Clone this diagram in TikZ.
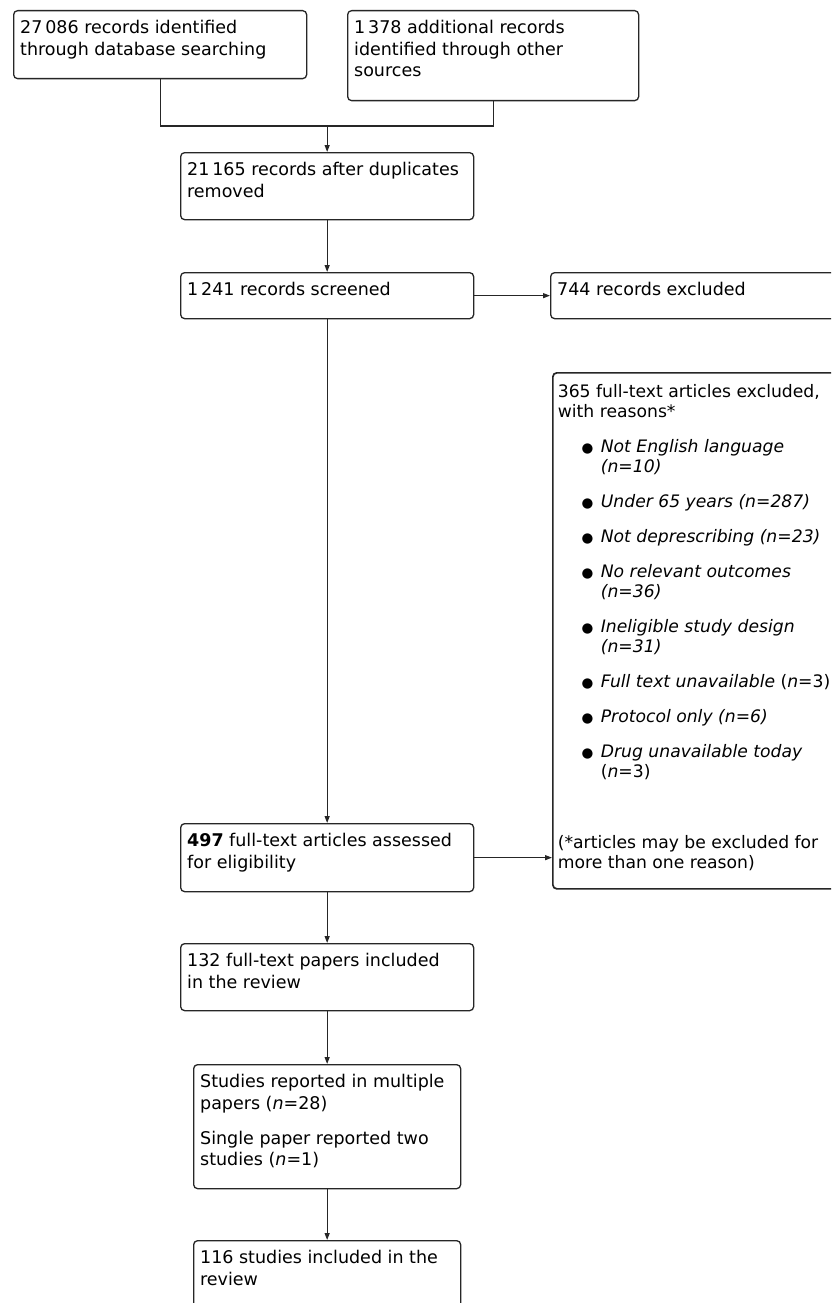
\documentclass[tikz,border=0pt]{standalone}
\usepackage{fontspec}
\setmainfont{DejaVu Sans}
\usetikzlibrary{arrows.meta}

\begin{document}
\begin{tikzpicture}[x=1pt, y=-1pt]
    % Text of a box: width, height, text
    \newcommand{\boxtext}[3]{\parbox[c][#2][t]{#1}{\fontsize{17.5}{21.5}\selectfont\rule{0pt}{23pt}#3}}
    % One reason in the exclusion list
    \newcommand{\reason}[1]{\par\vspace{15pt}\leftskip=43pt\noindent
      \llap{\raisebox{0.5pt}{\fontsize{13.5}{13.5}\selectfont ●}\hspace{7.5pt}}#1}
    % Boxes and arrows
    \tikzstyle{stage}=[draw=black!85, line width=1.3pt, rounded corners=4pt,
      inner xsep=6.5pt, inner ysep=0pt, anchor=north west, text=black]
    \tikzstyle{link}=[draw=black!85, line width=1.2pt]
    \tikzstyle{flow}=[link, -{Triangle[length=7pt, width=5pt]}]

    % Page
    \useasboundingbox (0,0) rectangle (831,1303);
    \fill[white] (0,0) rectangle (831,1303);
    \clip (0,0) rectangle (831,1303);

    % Identification
    \node[stage] (db) at (13,10)
      {\boxtext{280pt}{68pt}{27\,086 records identified\\through database searching}};
    \node[stage] (other) at (347,10)
      {\boxtext{278pt}{90pt}{1\,378 additional records\\identified through other\\sources}};

    % Screening
    \node[stage] (dedup) at (180,152)
      {\boxtext{280pt}{67pt}{21\,165 records after duplicates\\removed}};
    \coordinate (merge) at (dedup.north |- 0,126);
    \node[stage] (screened) at (180,272)
      {\boxtext{280pt}{46pt}{1\,241 records screened}};
    \node[stage] (excl1) at (550,272)
      {\boxtext{337pt}{46pt}{744 records excluded}};

    % Eligibility
    \node[stage] (full) at (180,823)
      {\boxtext{280pt}{68pt}{\textbf{497} full-text articles assessed\\for eligibility}};
    \node[stage, line width=1.7pt, inner xsep=5pt] (excl2) at (552,372)
      {\parbox[c][516pt][t]{340pt}{\fontsize{17.2}{20}\selectfont\rule{0pt}{25pt}%
        365 full-text articles excluded,\\with reasons*
        \reason{\textit{Not English language\\(n=10)}}
        \reason{\textit{Under 65 years (n=287)}}
        \reason{\textit{Not deprescribing (n=23)}}
        \reason{\textit{No relevant outcomes\\(n=36)}}
        \reason{\textit{Ineligible study design\\(n=31)}}
        \reason{\textit{Full text unavailable} (\textit{n}=3)}
        \reason{\textit{Protocol only (n=6)}}
        \reason{\textit{Drug unavailable today}\\(\textit{n}=3)}
        \par\vspace{51pt}\leftskip=0pt\noindent
        (*articles may be excluded for\\more than one reason)}};

    % Included
    \node[stage] (incl) at (180,943)
      {\boxtext{280pt}{67pt}{132 full-text papers included\\in the review}};
    \node[stage] (studies) at (193,1064)
      {\boxtext{254pt}{124pt}{Studies reported in multiple\\papers (\textit{n}=28)\par
        \vspace{13.5pt}Single paper reported two\\studies (\textit{n}=1)}};
    \node[stage] (final) at (193,1240)
      {\boxtext{254pt}{90pt}{116 studies included in the\\review}};

    % Connect boxes
    \draw[link] (db.south) |- (merge);
    \draw[link] (other.south) |- (merge);
    \draw[flow] (merge) -- (dedup.north);
    \draw[flow] (dedup.south) -- (screened.north);
    \draw[flow] (screened.east) -- (excl1.west);
    \draw[flow] (screened.south) -- (full.north);
    \draw[flow] (full.east) -- (full.east -| excl2.west);
    \draw[flow] (full.south) -- (incl.north);
    \draw[flow] (incl.south) -- (studies.north);
    \draw[flow] (studies.south) -- (final.north);
  \end{tikzpicture}
\end{document}
